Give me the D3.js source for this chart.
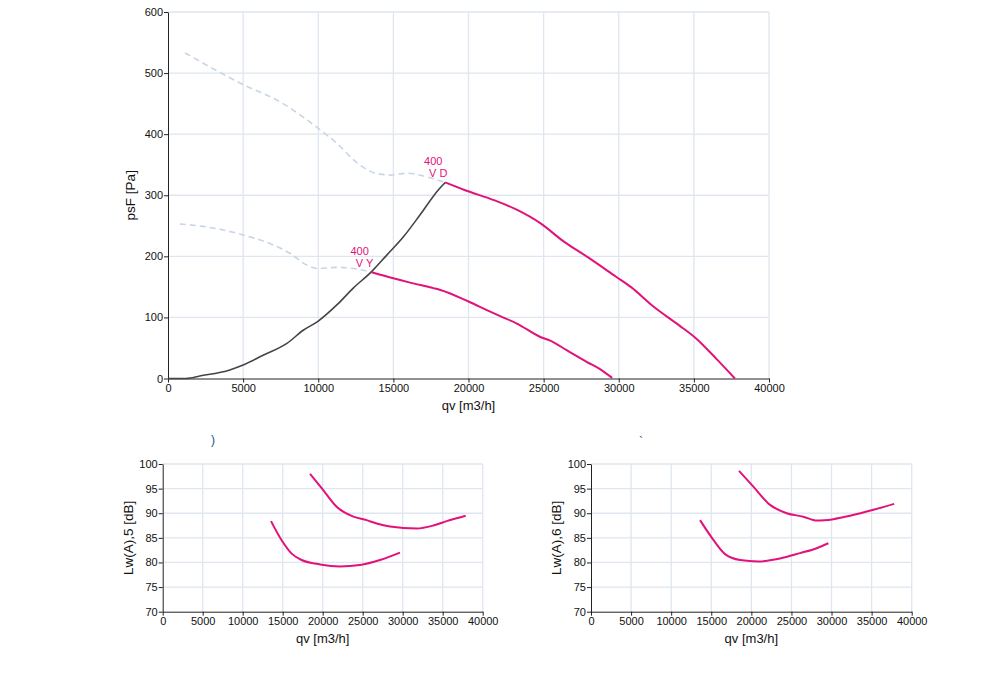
<!DOCTYPE html>
<html>
<head>
<meta charset="utf-8">
<script src="https://cdn.jsdelivr.net/npm/d3@7"></script>
<style>
  body { margin: 0; background: #fff; }
  svg text { font-family: "Liberation Sans", Arial, sans-serif; }
</style>
</head>
<body>
<svg id="chart" width="1000" height="678"></svg>
<script>
// ---- data: pressure chart ----
const qTicks = [0, 5000, 10000, 15000, 20000, 25000, 30000, 35000, 40000];
const psTicks = [0, 100, 200, 300, 400, 500, 600];
const dbTicks = [70, 75, 80, 85, 90, 95, 100];

// system curve (black)
const sysQ = [0, 1220, 2110, 4110, 5000, 6330, 7890, 9000, 10000, 11220, 12330, 13550, 14560, 15670, 16780, 18000, 18450];
const sysP = [0, 0, 4, 14, 22, 38, 57, 79, 94, 120, 148, 175, 202, 232, 268, 309, 321];

// dashed (out of range) parts
const dashDQ = [1130, 5020, 7450, 10130, 11240, 12350, 13690, 14800, 15910, 17250, 18450];
const dashDP = [533, 481, 453, 407, 385, 358, 337, 333, 336, 330, 321];
const dashYQ = [790, 2340, 5000, 6780, 8110, 9220, 10000, 11220, 12330, 13550];
const dashYP = [253, 249, 235, 221, 205, 186, 180, 182, 180, 174];

// working ranges (pink)
const vdQ = [18450, 19690, 21690, 23240, 24800, 26350, 27910, 29800, 30800, 32350, 34020, 35130, 36580, 37730];
const vdP = [321, 309, 292, 276, 254, 224, 199, 167, 150, 117, 87, 66, 30, 0];
const vyQ = [13550, 15000, 16110, 17670, 18130, 20000, 21220, 22110, 23220, 24780, 25440, 26560, 27890, 28780, 29560];
const vyP = [174, 164, 157, 148, 145, 126, 112, 102, 90, 68, 62, 46, 27, 15, 1];

// ---- data: sound power charts ----
const lw5UpQ = [18410, 19870, 21750, 23830, 25500, 26750, 28410, 31750, 33830, 35500, 37870];
const lw5UpV = [98.0, 95.1, 91.3, 89.3, 88.6, 87.9, 87.3, 86.9, 87.5, 88.4, 89.5];
const lw5LoQ = [13540, 14870, 16120, 17370, 19660, 22160, 24660, 27160, 29660];
const lw5LoV = [88.4, 84.5, 81.8, 80.5, 79.6, 79.2, 79.5, 80.5, 82.0];

const lw6UpQ = [18460, 20250, 22330, 24410, 26490, 28160, 30240, 32320, 35230, 37810];
const lw6UpV = [98.6, 95.4, 91.7, 90.0, 89.3, 88.5, 88.8, 89.5, 90.7, 91.9];
const lw6LoQ = [13600, 15260, 16720, 18590, 20870, 23570, 26070, 28160, 29610];
const lw6LoV = [88.6, 84.6, 81.7, 80.5, 80.2, 80.8, 81.9, 82.9, 83.9];

const pink = '#e2127b';
const gridCol = '#dfe6ef';

const svg = d3.select('#chart');

function zip(a, b) { return a.map((d, i) => [d, b[i]]); }

function panel(opt) {
    const g = svg.append('g');
    const x = d3.scaleLinear().domain([0, 40000]).range([opt.x0, opt.x1]);
    const y = d3.scaleLinear().domain(opt.yDomain).range([opt.y0, opt.y1]);

    // grid
    g.append('g').selectAll('line').data(qTicks.slice(1)).enter().append('line')
        .attr('x1', d => x(d)).attr('x2', d => x(d))
        .attr('y1', opt.y0).attr('y2', opt.y1)
        .attr('stroke', gridCol).attr('stroke-width', 1.3);
    g.append('g').selectAll('line').data(opt.yTicks.slice(1)).enter().append('line')
        .attr('x1', opt.x0).attr('x2', opt.x1)
        .attr('y1', d => y(d)).attr('y2', d => y(d))
        .attr('stroke', gridCol).attr('stroke-width', 1.3);

    // axes
    const ax = g.append('g')
        .attr('transform', `translate(0,${opt.y0})`)
        .call(d3.axisBottom(x).tickValues(qTicks).tickFormat(d3.format('d')).tickSize(4).tickPadding(2).tickSizeOuter(0));
    const ay = g.append('g')
        .attr('transform', `translate(${opt.x0},0)`)
        .call(d3.axisLeft(y).tickValues(opt.yTicks).tickFormat(d3.format('d')).tickSize(4).tickPadding(1).tickSizeOuter(0));
    [ax, ay].forEach(a => {
        a.selectAll('path, line').attr('stroke', '#222');
        a.selectAll('text').attr('font-size', 11).attr('fill', '#111')
            .style('font-family', '"Liberation Sans", Arial, sans-serif');
    });

    // labels
    g.append('text')
        .attr('x', (opt.x0 + opt.x1) / 2).attr('y', opt.y0 + 31)
        .attr('text-anchor', 'middle').attr('font-size', 13).attr('fill', '#111')
        .text('qv [m3/h]');
    g.append('text')
        .attr('transform', `translate(${opt.yLabelX},${(opt.y0 + opt.y1) / 2}) rotate(-90)`)
        .attr('text-anchor', 'middle').attr('font-size', opt.yLabelSize).attr('fill', '#111')
        .text(opt.yLabel);

    const line = d3.line().x(d => x(d[0])).y(d => y(d[1])).curve(d3.curveMonotoneX);
    return { g, x, y, line };
}

// ---- main chart ----
const main = panel({
    x0: 168, x1: 769, y0: 378.5, y1: 12,
    yDomain: [0, 600], yTicks: psTicks,
    yLabel: 'psF [Pa]', yLabelX: 135, yLabelSize: 13.5
});

[[dashDQ, dashDP], [dashYQ, dashYP]].forEach(s => {
    main.g.append('path')
        .datum(zip(s[0], s[1]))
        .attr('fill', 'none')
        .attr('stroke', '#c9d5e7')
        .attr('stroke-width', 1.6)
        .attr('stroke-dasharray', '6,4')
        .attr('d', main.line);
});

main.g.append('path')
    .datum(zip(sysQ, sysP))
    .attr('fill', 'none')
    .attr('stroke', '#444')
    .attr('stroke-width', 1.6)
    .attr('d', main.line);

[[vdQ, vdP], [vyQ, vyP]].forEach(s => {
    main.g.append('path')
        .datum(zip(s[0], s[1]))
        .attr('fill', 'none')
        .attr('stroke', pink)
        .attr('stroke-width', 2)
        .attr('d', main.line);
});

// point labels
const pointLabels = [
    { q: vdQ[0], p: vdP[0], l1: '400', l2: 'V D' },
    { q: vyQ[0], p: vyP[0], l1: '400', l2: 'V Y' }
];
pointLabels.forEach(d => {
    const px = main.x(d.q), py = main.y(d.p);
    main.g.append('text')
        .attr('x', px - 12).attr('y', py - 17)
        .attr('text-anchor', 'middle').attr('font-size', 11).attr('fill', pink)
        .text(d.l1);
    main.g.append('text')
        .attr('x', px - 7).attr('y', py - 5.5)
        .attr('text-anchor', 'middle').attr('font-size', 11).attr('fill', pink)
        .text(d.l2);
});

// ---- sound charts ----
const left = panel({
    x0: 162.7, x1: 482.7, y0: 611.7, y1: 464,
    yDomain: [70, 100], yTicks: dbTicks,
    yLabel: 'Lw(A),5 [dB]', yLabelX: 133, yLabelSize: 13.5
});
const right = panel({
    x0: 591, x1: 911.7, y0: 611.7, y1: 464,
    yDomain: [70, 100], yTicks: dbTicks,
    yLabel: 'Lw(A),6 [dB]', yLabelX: 561, yLabelSize: 13.5
});

[[left, lw5UpQ, lw5UpV], [left, lw5LoQ, lw5LoV], [right, lw6UpQ, lw6UpV], [right, lw6LoQ, lw6LoV]].forEach(s => {
    s[0].g.append('path')
        .datum(zip(s[1], s[2]))
        .attr('fill', 'none')
        .attr('stroke', pink)
        .attr('stroke-width', 2)
        .attr('d', s[0].line);
});

// stray glyphs above the small charts
svg.append('text').attr('x', 211).attr('y', 444).attr('font-size', 12).attr('fill', '#1d4f91').text(')');
svg.append('text').attr('x', 639).attr('y', 446).attr('font-size', 12).attr('fill', '#1d4f91').text('`');
</script>
</body>
</html>
